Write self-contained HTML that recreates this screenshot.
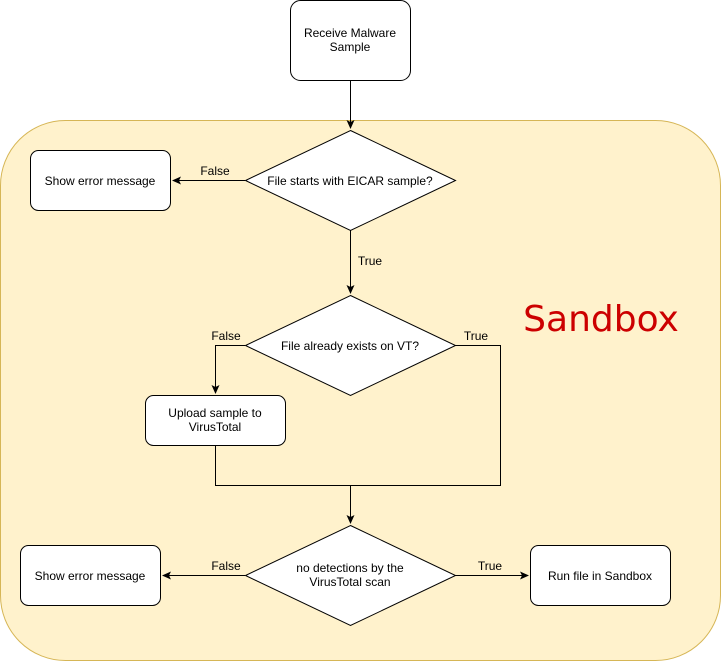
<!DOCTYPE html>
<html><head><meta charset="utf-8"><style>
html,body{margin:0;padding:0;background:#fff;}
svg{display:block;}
text{font-family:"Liberation Sans",Arial,sans-serif;font-size:12px;fill:#000;}
</style></head><body>
<svg width="721" height="661" viewBox="0 0 721 661">
<defs><marker id="a" markerWidth="10" markerHeight="10" refX="8" refY="5" orient="auto" markerUnits="userSpaceOnUse"><path d="M0,1 L9,5 L0,9 L2,5 Z" fill="#000"/></marker></defs>
<rect x="0.5" y="120.5" width="720" height="540" rx="65" fill="#fff2cc" stroke="#d6b656"/>
<rect x="290.5" y="0.5" width="120" height="80" rx="10" fill="#fff" stroke="#000"/>
<text x="350" y="37" text-anchor="middle">Receive Malware</text>
<text x="350" y="51" text-anchor="middle">Sample</text>
<line x1="350.5" y1="80" x2="350.5" y2="128" stroke="#000" marker-end="url(#a)"/>
<polygon points="350.5,130.5 455.5,180.5 350.5,230.5 245.5,180.5" fill="#fff" stroke="#000"/>
<text x="350" y="185" text-anchor="middle">File starts with EICAR sample?</text>
<rect x="30.5" y="150.5" width="140" height="60" rx="8" fill="#fff" stroke="#000"/>
<text x="100" y="185" text-anchor="middle">Show error message</text>
<line x1="245" y1="180.5" x2="173" y2="180.5" stroke="#000" marker-end="url(#a)"/>
<text x="215" y="175" text-anchor="middle">False</text>
<line x1="350.5" y1="230" x2="350.5" y2="293" stroke="#000" marker-end="url(#a)"/>
<text x="370" y="265" text-anchor="middle">True</text>
<polygon points="350.5,295.5 455.5,345.5 350.5,395.5 245.5,345.5" fill="#fff" stroke="#000"/>
<text x="350" y="350" text-anchor="middle">File already exists on VT?</text>
<polyline points="245,345.5 215.5,345.5 215.5,393" fill="none" stroke="#000" marker-end="url(#a)"/>
<text x="226" y="340" text-anchor="middle">False</text>
<text x="476" y="340" text-anchor="middle">True</text>
<rect x="145.5" y="395.5" width="140" height="50" rx="8" fill="#fff" stroke="#000"/>
<text x="215" y="417" text-anchor="middle">Upload sample to</text>
<text x="215" y="431" text-anchor="middle">VirusTotal</text>
<polyline points="455,345.5 500.5,345.5 500.5,485.5 350.5,485.5" fill="none" stroke="#000"/>
<polyline points="215.5,445 215.5,485.5 350.5,485.5 350.5,523" fill="none" stroke="#000" marker-end="url(#a)"/>
<polygon points="350.5,525.5 455.5,575.5 350.5,625.5 245.5,575.5" fill="#fff" stroke="#000"/>
<text x="350" y="572" text-anchor="middle">no detections by the</text>
<text x="350" y="586" text-anchor="middle">VirusTotal scan</text>
<rect x="20.5" y="545.5" width="140" height="60" rx="8" fill="#fff" stroke="#000"/>
<text x="90" y="580" text-anchor="middle">Show error message</text>
<line x1="245" y1="575.5" x2="163" y2="575.5" stroke="#000" marker-end="url(#a)"/>
<text x="226" y="570" text-anchor="middle">False</text>
<rect x="530.5" y="545.5" width="140" height="60" rx="8" fill="#fff" stroke="#000"/>
<text x="600" y="580" text-anchor="middle">Run file in Sandbox</text>
<line x1="455" y1="575.5" x2="528" y2="575.5" stroke="#000" marker-end="url(#a)"/>
<text x="490" y="570" text-anchor="middle">True</text>
<text x="601" y="331" text-anchor="middle" style="font-family:'DejaVu Sans',Verdana,sans-serif;font-size:36px;fill:#cc0000;">Sandbox</text>
</svg>
</body></html>
